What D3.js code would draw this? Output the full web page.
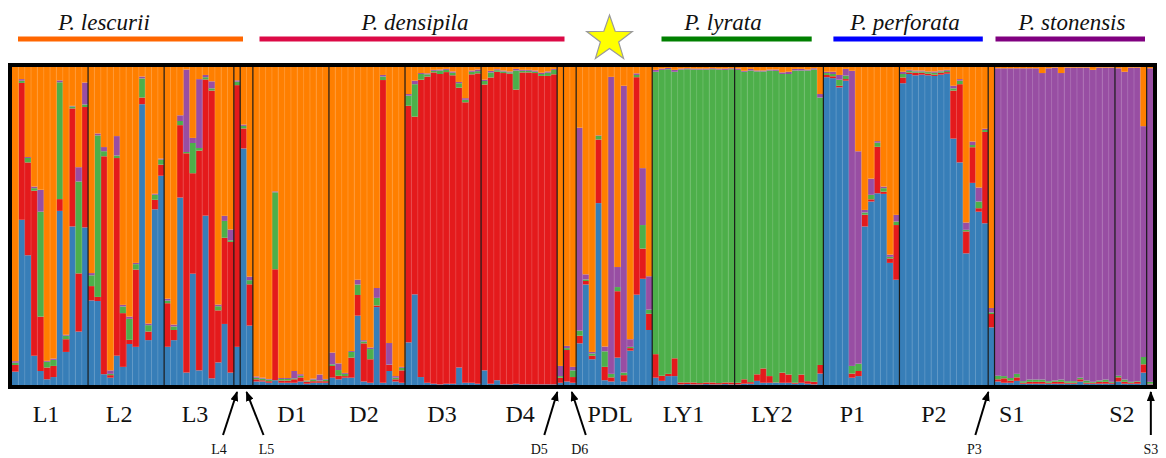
<!DOCTYPE html>
<html><head><meta charset="utf-8">
<script src="https://cdn.jsdelivr.net/npm/d3@7"></script>
<style>html,body{margin:0;padding:0;background:#fff}svg{display:block}</style>
</head><body><svg id="c" width="1166" height="458"></svg>
<script>
// ---------------- DATA ----------------
const populations = ["L1","L2","L3","L4","L5","D1","D2","D3","D4","D5","D6","PDL","LY1","LY2","P1","P2","P3","S1","S2","S3"];
const popSizes    = [12,12,11,1,2,12,12,12,12,1,2,12,13,14,12,14,1,19,5,1];
const clusterKeys   = ["blue","red","green","purple","orange"];
const clusterColors = ["#377eb8","#e41a1c","#4daf4a","#984ea3","#ff7f00"];
const speciesNames  = ["P. lescurii","P. densipila","P. lyrata","P. perforata","P. stonensis"];
const speciesColors = ["#ff6600","#dc0a46","#008000","#0000ff","#800080"];

// membership coefficients per individual (ordered by population)
const qBlue = [
 .042,.519,.408,.092,.044,.018,.025,.547,.104,.498,.168,.496,
 .266,.264,.034,.023,.092,.057,.129,.120,.883,.141,.553,.658,
 .120,.141,.590,.039,.350,.046,.532,.021,.071,.192,.039,
 .120,
 .743,.187,
 .011,.011,.007,.015,.007,.007,.007,.011,.004,.007,.007,.007,
 .023,.018,.023,.023,.218,.011,.007,.245,.007,.044,.011,.007,
 .134,.285,.025,.007,.004,.002,.004,.004,.055,.007,.007,.004,
 .046,.004,.015,.002,.002,.004,.002,.002,.002,.002,.002,.002,
 .007,
 .011,.007,
 .131,.316,.081,.572,.015,.011,.086,.011,.108,.284,.334,.173,
 .023,.013,.028,.028,.002,.003,.002,.002,.003,.002,.002,.003,.002,
 .002,.004,.004,.013,.007,.007,.007,.007,.007,.004,.007,.004,.002,.036,
 .967,.964,.936,.957,.023,.028,.498,.577,.603,.601,.384,.331,
 .949,.978,.970,.973,.970,.968,.973,.976,.774,.700,.414,.640,.545,.508,
 .181,
 .011,.007,.007,.013,.004,.004,.004,.004,.004,.004,.004,.004,.004,.011,.004,.004,.004,.004,.004,
 .011,.004,.004,.004,.039,
 .002];
const qRed = [
 .021,.430,.292,.519,.171,.037,.035,.037,.040,.371,.183,.379,
 .045,.013,.686,.008,.621,.169,.013,.243,.021,.027,.030,.035,
 .137,.032,.228,.689,.316,.689,.428,.904,.164,.271,.411,
 .823,
 .063,.130,
 .007,.004,.005,.349,.007,.007,.011,.013,.006,.005,.005,.005,
 .037,.011,.005,.063,.065,.120,.074,.005,.952,.019,.007,.039,
 .744,.559,.935,.963,.979,.976,.980,.970,.880,.882,.970,.976,
 .899,.963,.970,.979,.977,.925,.981,.981,.979,.970,.970,.975,
 .016,
 .099,.018,
 .024,.011,.011,.200,.042,.013,.209,.020,.008,.684,.095,.051,
 .074,.016,.007,.056,.006,.005,.006,.004,.005,.006,.004,.005,.006,
 .005,.014,.005,.021,.045,.021,.001,.032,.026,.003,.026,.008,.008,.027,
 .007,.006,.005,.005,.013,.016,.037,.007,.146,.007,.014,.172,
 .018,.005,.008,.006,.005,.004,.006,.005,.151,.246,.069,.113,.011,.287,
 .042,
 .007,.014,.007,.011,.003,.006,.006,.006,.003,.006,.006,.003,.003,.007,.003,.003,.006,.006,.003,
 .013,.006,.003,.006,.026,
 .002];
const qGreen = [
 .007,.007,.014,.008,.330,.018,.019,.367,.011,.006,.289,.008,
 .034,.508,.016,.004,.008,.021,.066,.017,.060,.020,.016,.016,
 .008,.011,.013,.004,.095,.008,.007,.007,.013,.053,.005,
 .011,
 .008,.013,
 .005,.005,.005,.242,.005,.005,.003,.005,.002,.005,.002,.005,
 .005,.018,.007,.018,.033,.006,.032,.024,.011,.001,.005,.008,
 .032,.102,.018,.007,.005,.011,.007,.008,.014,.008,.008,.007,
 .011,.016,.005,.005,.004,.060,.005,.005,.004,.006,.010,.014,
 .005,
 .006,.021,
 .016,.005,.007,.011,.049,.011,.013,.008,.004,.007,.074,.013,
 .888,.962,.958,.901,.984,.985,.984,.986,.984,.985,.986,.983,.985,
 .984,.970,.980,.962,.933,.959,.980,.944,.945,.984,.960,.975,.981,.841,
 .006,.007,.019,.011,.024,.023,.007,.014,.013,.011,.005,.011,
 .011,.005,.004,.004,.005,.006,.004,.004,.007,.011,.005,.007,.021,.006,
 .005,
 .011,.007,.008,.011,.005,.007,.007,.007,.005,.004,.007,.005,.005,.005,.007,.003,.004,.007,.003,
 .005,.007,.003,.002,.023,
 .006];
const qPurple = [
 .005,.005,.003,.005,.069,.003,.004,.006,.003,.002,.045,.069,
 .007,.006,.013,.011,.061,.005,.007,.004,.006,.005,.003,.003,
 .006,.006,.018,.259,.016,.216,.007,.022,.005,.016,.034,
 .004,
 .004,.011,
 .004,.003,.002,.003,.003,.003,.023,.005,.002,.003,.019,.002,
 .037,.021,.003,.003,.015,.004,.005,.031,.005,.068,.005,.003,
 .005,.011,.003,.003,.003,.003,.003,.004,.004,.005,.004,.005,
 .004,.005,.003,.003,.003,.005,.003,.003,.004,.004,.004,.003,
 .032,
 .007,.011,
 .638,.016,.005,.002,.015,.934,.063,.902,.024,.005,.179,.105,
 .006,.004,.004,.006,.003,.003,.003,.003,.003,.003,.003,.004,.003,
 .004,.003,.005,.003,.003,.003,.004,.005,.007,.005,.005,.003,.004,.011,
 .004,.007,.015,.021,.928,.668,.008,.051,.005,.005,.007,.021,
 .007,.003,.003,.003,.002,.004,.003,.003,.008,.005,.023,.011,.044,.004,
 .014,
 .967,.968,.974,.961,.984,.979,.979,.964,.984,.984,.966,.986,.986,.975,.984,.981,.984,.981,.988,
 .968,.967,.988,.986,.726,
 .986];
const qOrange = [
 .925,.038,.283,.376,.386,.924,.917,.042,.842,.122,.315,.049,
 .648,.209,.252,.954,.217,.748,.785,.616,.030,.806,.399,.288,
 .728,.810,.152,.008,.223,.038,.025,.045,.748,.468,.511,
 .042,
 .181,.660,
 .973,.977,.981,.391,.978,.978,.956,.966,.986,.980,.967,.981,
 .898,.932,.962,.893,.669,.859,.882,.695,.025,.868,.972,.943,
 .085,.043,.019,.020,.009,.008,.006,.014,.047,.098,.011,.008,
 .040,.012,.007,.011,.014,.006,.009,.009,.011,.018,.014,.006,
 .940,
 .877,.943,
 .191,.652,.896,.215,.879,.031,.629,.059,.856,.020,.318,.658,
 .009,.005,.003,.009,.005,.004,.005,.005,.005,.004,.005,.005,.004,
 .005,.012,.006,.011,.011,.008,.008,.017,.015,.006,.006,.008,.004,.085,
 .015,.015,.025,.006,.012,.265,.449,.351,.233,.376,.590,.465,
 .015,.009,.011,.011,.014,.014,.011,.009,.059,.038,.489,.236,.379,.194,
 .757,
 .004,.004,.004,.004,.004,.004,.004,.019,.004,.002,.019,.002,.002,.002,.002,.009,.002,.002,.002,
 .004,.015,.002,.002,.186,
 .004];

// ---------------- LAYOUT ----------------
const plot = {left:12, right:1153, top:67, bottom:385};
const serif = "'Liberation Serif','Times New Roman',serif";
const labelNudge = {L1:-4,L2:-7,L3:-4,D1:1,D2:-3,D3:-1,D4:1,PDL:-4,LY1:-10,LY2:-7,P1:-9,P2:-10,S1:-43,S2:-9};
const arrowCfg = {L4:{h:0,t:-14,l:-18}, L5:{h:0,t:17,l:20}, D5:{h:-3,t:-16,l:-21},
                  D6:{h:2,t:16,l:10}, P3:{h:-3,t:-16,l:-17}, S3:{h:1,t:1,l:1}};
const header = [ {x0:18,x1:243,tx:104}, {x0:259.5,x1:564.5,tx:415}, {x0:661.5,x1:811.7,tx:723},
                 {x0:833.4,x1:982.8,tx:905}, {x0:995.5,x1:1145,tx:1072} ];
const star = {cx:609.5, cy:39, R:24};

// ---------------- DRAW ----------------
const svg = d3.select("#c");
const n = qBlue.length;
const popOf = [];
populations.forEach((p,i)=>{ for(let k=0;k<popSizes[i];k++) popOf.push(p); });
const rows = d3.range(n).map(i=>({idx:i, pop:popOf[i], blue:qBlue[i], red:qRed[i], green:qGreen[i], purple:qPurple[i], orange:qOrange[i]}));

const x = d3.scaleBand().domain(d3.range(n)).range([plot.left, plot.right]).padding(0);
const y = d3.scaleLinear().domain([0,1]).range([plot.bottom, plot.top]);
const series = d3.stack().keys(clusterKeys).offset(d3.stackOffsetExpand)(rows);

svg.append("g").selectAll("g").data(series).join("g")
  .attr("fill",(d,i)=>clusterColors[i])
  .selectAll("rect").data(d=>d).join("rect")
  .attr("x",d=>x(d.data.idx))
  .attr("width",d=> d.data.idx===n-1 ? x.bandwidth() : x.bandwidth()+0.4)
  .attr("y",d=>y(d[1]))
  .attr("height",d=>Math.max(0, y(d[0])-y(d[1])));

// population start indices
const starts = []; let acc = 0;
popSizes.forEach(s=>{ starts.push(acc); acc += s; });
const boundarySet = new Set(starts);

// faint separators between individuals
svg.append("g").selectAll("line").data(d3.range(1,n).filter(i=>!boundarySet.has(i))).join("line")
  .attr("x1",i=>x(i)).attr("x2",i=>x(i)).attr("y1",plot.top).attr("y2",plot.bottom)
  .attr("stroke","#ffffff").attr("stroke-opacity",0.17).attr("stroke-width",1);

// population separators
svg.append("g").selectAll("line").data(starts.slice(1)).join("line")
  .attr("x1",i=>x(i)).attr("x2",i=>x(i)).attr("y1",plot.top).attr("y2",plot.bottom)
  .attr("stroke","#1a1a1a").attr("stroke-width",1.2);

// frame
svg.append("rect").attr("x",plot.left-2).attr("y",plot.top-2)
  .attr("width",plot.right-plot.left+4).attr("height",plot.bottom-plot.top+4)
  .attr("fill","none").attr("stroke","#000").attr("stroke-width",4);

// population labels & arrows
const popCenter = i => x(starts[i]) + popSizes[i]*x.bandwidth()/2;
const defs = svg.append("defs");
defs.append("marker").attr("id","ah").attr("viewBox","0 0 10 8").attr("refX",9).attr("refY",4)
  .attr("markerWidth",10).attr("markerHeight",8).attr("markerUnits","userSpaceOnUse").attr("orient","auto")
  .append("path").attr("d","M0,0 L10,4 L0,8 Z").attr("fill","#000");

populations.forEach((p,i)=>{
  const c = popCenter(i);
  if (arrowCfg[p]) {
    const a = arrowCfg[p];
    svg.append("line").attr("x1",c+a.t).attr("y1",435).attr("x2",c+a.h).attr("y2",392)
      .attr("stroke","#000").attr("stroke-width",2).attr("marker-end","url(#ah)");
    svg.append("text").attr("x",c+a.l).attr("y",454).attr("text-anchor","middle")
      .attr("font-family",serif).attr("font-size",14).attr("fill","#111").text(p);
  } else {
    svg.append("text").attr("x",c+(labelNudge[p]||0)).attr("y",422).attr("text-anchor","middle")
      .attr("font-family",serif).attr("font-size",24).attr("fill","#111").text(p);
  }
});

// header: species bars and names
speciesNames.forEach((s,i)=>{
  const h = header[i];
  svg.append("rect").attr("x",h.x0).attr("y",36.5).attr("width",h.x1-h.x0).attr("height",5)
    .attr("fill",speciesColors[i]);
  svg.append("text").attr("x",h.tx).attr("y",30).attr("text-anchor","middle")
    .attr("font-family",serif).attr("font-style","italic").attr("font-size",23).attr("fill","#111").text(s);
});

// star
const pts = d3.range(10).map(k=>{
  const r = k%2===0 ? star.R : star.R*0.40;
  const ang = -Math.PI/2 + k*Math.PI/5;
  return [star.cx + r*Math.cos(ang), star.cy + r*Math.sin(ang)];
});
svg.append("path").attr("d", d3.line()(pts)+"Z").attr("fill","#ffff00")
  .attr("stroke","#9a9a9a").attr("stroke-width",1.2).attr("stroke-linejoin","miter");
</script>
</body></html>
